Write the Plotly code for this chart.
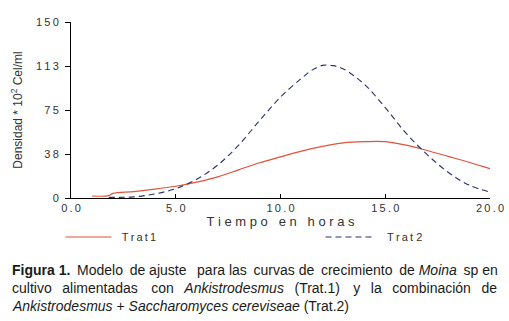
import plotly.graph_objects as go

# Data
t_trat1 = [1.0, 1.8, 2.0, 3.0, 4.0, 5.0, 6.0, 7.0, 8.0, 9.0, 10.0, 11.0, 12.0, 13.0, 14.0, 15.0, 16.0, 17.0, 18.0, 19.0, 20.0]
y_trat1 = [1.7, 2.0, 4.0, 5.5, 7.5, 10.0, 13.5, 18.0, 24.0, 30.0, 35.0, 40.0, 44.0, 47.0, 48.0, 48.0, 45.0, 40.5, 35.5, 30.5, 25.0]

t_trat2 = [1.8, 3.0, 4.0, 5.0, 6.0, 7.0, 8.0, 9.0, 10.0, 11.0, 11.5, 12.0, 12.5, 13.0, 14.0, 15.0, 16.0, 17.0, 18.0, 19.0, 20.0]
y_trat2 = [0.5, 1.0, 3.5, 8.0, 16.0, 28.0, 45.0, 66.0, 86.0, 102.0, 109.0, 113.0, 112.8, 110.0, 97.0, 77.0, 55.0, 37.0, 22.0, 11.0, 5.0]

x_tickvals = [0, 5, 10, 15, 20]
x_ticktext = ["0.0", "5.0", "10.0", "15.0", "20.0"]
y_tickvals = [0, 37.5, 75, 112.5, 150]
y_ticktext = ["0", "38", "75", "113", "150"]

TS = "\u2009"
NB = "\u00a0"
def spaced(s):
    return TS.join(list(s))

FONT = "Liberation Sans, Arial, sans-serif"

W, H = 509, 321
PL, PR, PT, PB = 71, 19, 22, 123
PW = W - PL - PR
PH = H - PT - PB
def pxx(px):  # screen px -> paper x
    return (px - PL) / PW
def pxy(py):  # screen px -> paper y
    return (H - PB - py) / PH

fig = go.Figure()
fig.add_trace(go.Scatter(
    x=t_trat1, y=y_trat1, mode="lines", name=NB + TS + spaced("Trat1"), legend="legend",
    line=dict(color="#e0533c", width=1.2, shape="spline"),
))
fig.add_trace(go.Scatter(
    x=t_trat2, y=y_trat2, mode="lines", name=NB + NB + TS + TS + spaced("Trat") + NB + "2", legend="legend2",
    line=dict(color="#2b2f6b", width=1.1, dash="6px,4px", shape="spline"),
))

leg_common = dict(
    orientation="h", xanchor="left", yanchor="middle",
    font=dict(size=11, color="#333333"), bgcolor="rgba(0,0,0,0)",
    itemwidth=46, borderwidth=0,
)

xtitle = NB.join(list("Tiempo")) + NB * 3 + NB.join(list("en")) + NB * 3 + NB.join(list("horas"))

fig.update_layout(
    width=W, height=H,
    margin=dict(l=PL, r=PR, t=PT, b=PB, autoexpand=False),
    paper_bgcolor="white", plot_bgcolor="white",
    font=dict(family=FONT, size=11, color="#333333"),
    showlegend=True,
    legend=dict(x=pxx(60.5), y=pxy(237), **leg_common),
    legend2=dict(x=pxx(320.5), y=pxy(237), **leg_common),
    xaxis=dict(
        range=[0, 20], tickvals=x_tickvals, ticktext=[spaced(s) for s in x_ticktext],
        showline=True, linecolor="black", linewidth=1, mirror=False, automargin=False,
        ticks="inside", ticklen=4, tickcolor="black", showgrid=False, zeroline=False,
        title=dict(text=xtitle, font=dict(size=13, color="#333333"), standoff=3),
        tickfont=dict(size=11),
    ),
    yaxis=dict(
        range=[0, 150], tickvals=y_tickvals, ticktext=[spaced(s) for s in y_ticktext],
        showline=True, linecolor="black", linewidth=1, automargin=False,
        ticks="outside", ticklen=5, tickcolor="black", showgrid=False, zeroline=False,
        ticklabelstandoff=4,
        title=dict(text="Densidad * 10<sup>2</sup> Cel/ml", font=dict(size=12, color="#333333"), standoff=10),
        tickfont=dict(size=11),
    ),
)

cap_font = dict(family=FONT, size=14, color="#1a1a1a")
x0 = pxx(10)
S = " "
G1 = TS + " "
fig.add_annotation(
    xref="paper", yref="paper", x=x0, y=pxy(270), xanchor="left", yanchor="middle",
    showarrow=False, font=cap_font,
    text=("<b>Figura" + S + "1.</b>" + G1 + "Modelo" + G1 + "de" + S + "ajuste" + NB + G1 + "para" + S + "las" + G1 +
          "curvas" + S + "de" + G1 + "crecimiento" + G1 + "de" + S + "<i>Moina</i>" + G1 + "sp" + S + "en"),
)
G2 = NB + TS + " "
G2b = NB + TS + TS + " "
fig.add_annotation(
    xref="paper", yref="paper", x=x0, y=pxy(288), xanchor="left", yanchor="middle",
    showarrow=False, font=cap_font,
    text=("cultivo" + G2 + "alimentadas" + G2b + "con" + G2 + "<i>Ankistrodesmus</i>" + G2 + "(Trat.1)" + G2b +
          "y" + G2 + "la" + G2 + "combinación" + G2 + "de"),
)
fig.add_annotation(
    xref="paper", yref="paper", x=x0, y=pxy(306), xanchor="left", yanchor="middle",
    showarrow=False, font=cap_font,
    text="<i>Ankistrodesmus</i> + <i>Saccharomyces cereviseae</i> (Trat.2)",
)

fig.write_html(
    "out.html",
    config={"displayModeBar": False},
    post_script="document.body.style.margin='0';document.body.style.overflow='hidden';",
)
